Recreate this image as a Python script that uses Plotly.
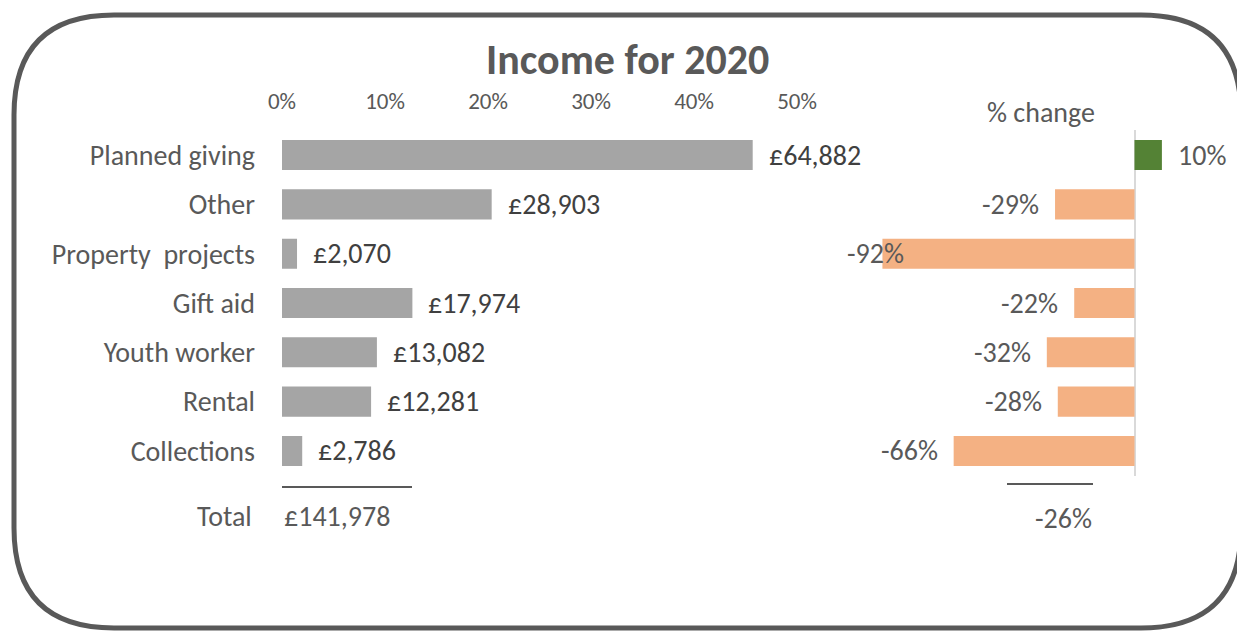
import plotly.graph_objects as go

# ---------------- data ----------------
categories = ["Planned giving", "Other", "Property  projects", "Gift aid",
              "Youth worker", "Rental", "Collections"]
income = [64882, 28903, 2070, 17974, 13082, 12281, 2786]
pct_change = [0.10, -0.29, -0.92, -0.22, -0.32, -0.28, -0.66]
total_change = -0.26
share_ticks = [0, 0.1, 0.2, 0.3, 0.4, 0.5]
share_tick_labels = ["0%", "10%", "20%", "30%", "40%", "50%"]

# ---------------- geometry helpers ----------------
W, H = 1237, 631
def X(px):
    return px / W
def Y(py):
    return 1 - py / H

FONT = "Carlito, Calibri, Lato, sans-serif"
GREY_TXT = "#595959"
DARK_TXT = "#404040"

total = sum(income)
shares = [v / total for v in income]

fig = go.Figure()
fig.add_trace(go.Bar(
    x=shares, y=categories, orientation="h", width=0.61,
    marker=dict(color="#a5a5a5", line=dict(width=0)),
    xaxis="x", yaxis="y", showlegend=False, hoverinfo="skip"))
fig.add_trace(go.Bar(
    x=pct_change, y=categories, orientation="h", width=0.61,
    marker=dict(color=["#548235" if c >= 0 else "#f4b183" for c in pct_change],
                line=dict(width=0)),
    xaxis="x2", yaxis="y2", showlegend=False, hoverinfo="skip"))

ydom = [Y(475.6), Y(130.4)]
x2_left, x2_zero, px_per_unit = 845, 1134.5, 274.0
x2_range = [-(x2_zero - x2_left) / px_per_unit, (W - x2_zero) / px_per_unit]

LBL = 28
annotations = []
# value labels on left bars
for c, s, v in zip(categories, shares, income):
    annotations.append(dict(x=s, y=c, xref="x", yref="y", text=f"£{v:,}",
                            xanchor="left", yanchor="middle", xshift=14, showarrow=False,
                            font=dict(family=FONT, size=LBL, color=DARK_TXT)))
# % change labels
for c, p in zip(categories, pct_change):
    txt = f"{round(p*100):d}%"
    if p >= 0:
        annotations.append(dict(x=p, y=c, xref="x2", yref="y2", text=txt,
                                xanchor="left", xshift=14, showarrow=False,
                                font=dict(family=FONT, size=LBL, color=GREY_TXT)))
    else:
        label_w = 64 / px_per_unit
        if p - 14 / px_per_unit - label_w < x2_range[0]:
            annotations.append(dict(x=x2_range[0], y=c, xref="x2", yref="y2", text=txt,
                                    xanchor="left", showarrow=False,
                                    font=dict(family=FONT, size=LBL, color=GREY_TXT)))
        else:
            annotations.append(dict(x=p, y=c, xref="x2", yref="y2", text=txt,
                                    xanchor="right", xshift=-14, showarrow=False,
                                    font=dict(family=FONT, size=LBL, color=GREY_TXT)))

annotations += [
    dict(x=X(627), y=Y(60), xref="paper", yref="paper", text="<b>Income for 2020</b>",
         showarrow=False, xanchor="center", yanchor="middle",
         font=dict(family=FONT, size=42, color=GREY_TXT)),
    dict(x=X(1041), y=Y(112), xref="paper", yref="paper", text="% change",
         showarrow=False, xanchor="center", yanchor="middle",
         font=dict(family=FONT, size=LBL, color=GREY_TXT)),
    dict(x=X(254), y=Y(516), xref="paper", yref="paper", text="Total",
         showarrow=False, xanchor="right", yanchor="middle",
         font=dict(family=FONT, size=LBL, color=GREY_TXT)),
    dict(x=0, y=Y(516), xref="x", yref="paper", text=f"£{total:,}",
         showarrow=False, xanchor="left", yanchor="middle", xshift=0,
         font=dict(family=FONT, size=LBL, color=GREY_TXT)),
    dict(x=total_change, y=Y(518), xref="x2", yref="paper", text=f"{round(total_change*100):d}%",
         showarrow=False, xanchor="center", yanchor="middle",
         font=dict(family=FONT, size=LBL, color=GREY_TXT)),
]

# rounded frame
l, t, r, b, rad = 14, 15, 1241, 628, 100
path = (f"M {X(l)},{Y(t+rad)} Q {X(l)},{Y(t)} {X(l+rad)},{Y(t)} "
        f"L {X(r-rad)},{Y(t)} Q {X(r)},{Y(t)} {X(r)},{Y(t+rad)} "
        f"L {X(r)},{Y(b-rad)} Q {X(r)},{Y(b)} {X(r-rad)},{Y(b)} "
        f"L {X(l+rad)},{Y(b)} Q {X(l)},{Y(b)} {X(l)},{Y(b-rad)} Z")
shapes = [
    dict(type="path", path=path, xref="paper", yref="paper",
         line=dict(color=GREY_TXT, width=5), fillcolor="rgba(0,0,0,0)"),
    dict(type="line", xref="paper", yref="paper", x0=X(282), x1=X(412), y0=Y(487), y1=Y(487),
         line=dict(color=GREY_TXT, width=2)),
    dict(type="line", xref="paper", yref="paper", x0=X(1007), x1=X(1093), y0=Y(484), y1=Y(484),
         line=dict(color=GREY_TXT, width=2)),
]

fig.update_layout(
    width=W, height=H, margin=dict(l=0, r=0, t=0, b=0, pad=0, autoexpand=False),
    paper_bgcolor="white", plot_bgcolor="rgba(0,0,0,0)",
    font=dict(family=FONT, color=GREY_TXT),
    xaxis=dict(domain=[X(282), X(797)], range=[0, 0.5], side="top", automargin=False,
               tickvals=share_ticks, ticktext=share_tick_labels,
               showgrid=False, zeroline=False, showline=False, ticks="",
               ticklabelstandoff=16,
               tickfont=dict(family=FONT, size=23, color=GREY_TXT), fixedrange=True),
    yaxis=dict(domain=ydom, categoryorder="array", categoryarray=categories, automargin=False,
               autorange="reversed", showgrid=False, zeroline=False, showline=False,
               ticks="", ticklabelstandoff=26,
               tickfont=dict(family=FONT, size=LBL, color=GREY_TXT)),
    xaxis2=dict(domain=[X(x2_left), 1], range=x2_range, anchor="y2", automargin=False,
                showgrid=False, showticklabels=False, showline=False, ticks="",
                zeroline=True, zerolinecolor="#d9d9d9", zerolinewidth=2),
    yaxis2=dict(domain=ydom, anchor="x2", categoryorder="array", categoryarray=categories,
                automargin=False, autorange="reversed", showticklabels=False, showgrid=False,
                zeroline=False, showline=False, ticks=""),
    annotations=annotations, shapes=shapes,
)

fig.write_html("out.html", config={"displayModeBar": False},
               post_script="document.body.style.margin='0';document.body.style.overflow='hidden';")
